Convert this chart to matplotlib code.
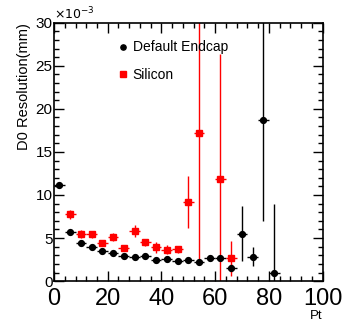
import numpy as np
import matplotlib
matplotlib.use('Agg')
from matplotlib import pyplot as plt
from matplotlib.ticker import MultipleLocator

# bin centres in Pt
pt = [2, 6, 10, 14, 18, 22, 26, 30, 34, 38, 42, 46, 50, 54, 58, 62, 66, 70, 74, 78, 82]

# D0 resolution, units of 1e-3 mm
default_res = [11.2, 5.65, 4.41, 3.98, 3.45, 3.25, 2.9, 2.79, 2.9, 2.4, 2.55,
               2.36, 2.47, 2.25, 2.63, 2.7, 1.51, 5.5, 2.82, 18.7, 0.93]
default_err = [0.15, 0.12, 0.1, 0.1, 0.1, 0.1, 0.1, 0.1, 0.1, 0.1, 0.12,
               0.12, 0.15, 0.2, 0.2, 0.25, 0.5, 3.2, 1.1, 11.7, 8.0]

silicon_res = [np.nan, 7.75, 5.46, 5.42, 4.45, 5.08, 3.8, 5.8, 4.53, 3.91, 3.64,
               3.68, 9.2, 17.15, np.nan, 11.85, 2.63, np.nan, np.nan, np.nan, np.nan]
silicon_err = [0, 0.55, 0.45, 0.45, 0.35, 0.45, 0.35, 0.7, 0.4, 0.6, 0.5,
               0.45, 3.0, 15.0, 0, 14.5, 2.0, 0, 0, 0, 0]

bin_half = 2


def main():
    plt.rcParams['font.family'] = ['Liberation Sans', 'DejaVu Sans']

    fig = plt.figure(figsize=(3.42, 3.25), dpi=100)
    ax = fig.add_axes([0.158, 0.135, 0.785, 0.795])

    ax.errorbar(pt, default_res, xerr=bin_half, yerr=default_err, fmt='o',
                color='black', ms=4.2, elinewidth=1, capsize=0,
                label='Default Endcap')
    ax.errorbar(pt, silicon_res, xerr=bin_half, yerr=silicon_err, fmt='s',
                color='red', ms=4.5, elinewidth=1, capsize=0,
                label='Silicon')

    ax.set_xlim(0, 100)
    ax.set_ylim(0, 30)

    ax.xaxis.set_major_locator(MultipleLocator(20))
    ax.xaxis.set_minor_locator(MultipleLocator(4))
    ax.yaxis.set_major_locator(MultipleLocator(5))
    ax.yaxis.set_minor_locator(MultipleLocator(1))
    ax.tick_params(which='both', direction='in', top=True, right=True, width=1)
    ax.tick_params(which='major', length=7)
    ax.tick_params(which='minor', length=3.5)
    ax.tick_params(axis='x', labelsize=17, pad=5)
    ax.tick_params(axis='y', labelsize=11, pad=1)
    for s in ax.spines.values():
        s.set_linewidth(1.2)

    ax.set_ylabel('D0 Resolution(mm)', loc='top', fontsize=10.5, labelpad=3)
    ax.set_xlabel('Pt', loc='right', fontsize=9.5, labelpad=0)
    ax.text(0.0, 1.0, r'$\times10^{-3}$', transform=ax.transAxes,
            fontsize=9, ha='left', va='bottom')

    handles, labels = ax.get_legend_handles_labels()
    handles = [h[0] for h in handles]
    ax.legend(handles, labels, loc='upper left', bbox_to_anchor=(0.2, 0.98),
              frameon=False, fontsize=10, handlelength=0.4,
              handletextpad=0.5, labelspacing=1.0, markerscale=0.9)

    fig.savefig('out.png', dpi=100)


if __name__ == '__main__':
    main()
